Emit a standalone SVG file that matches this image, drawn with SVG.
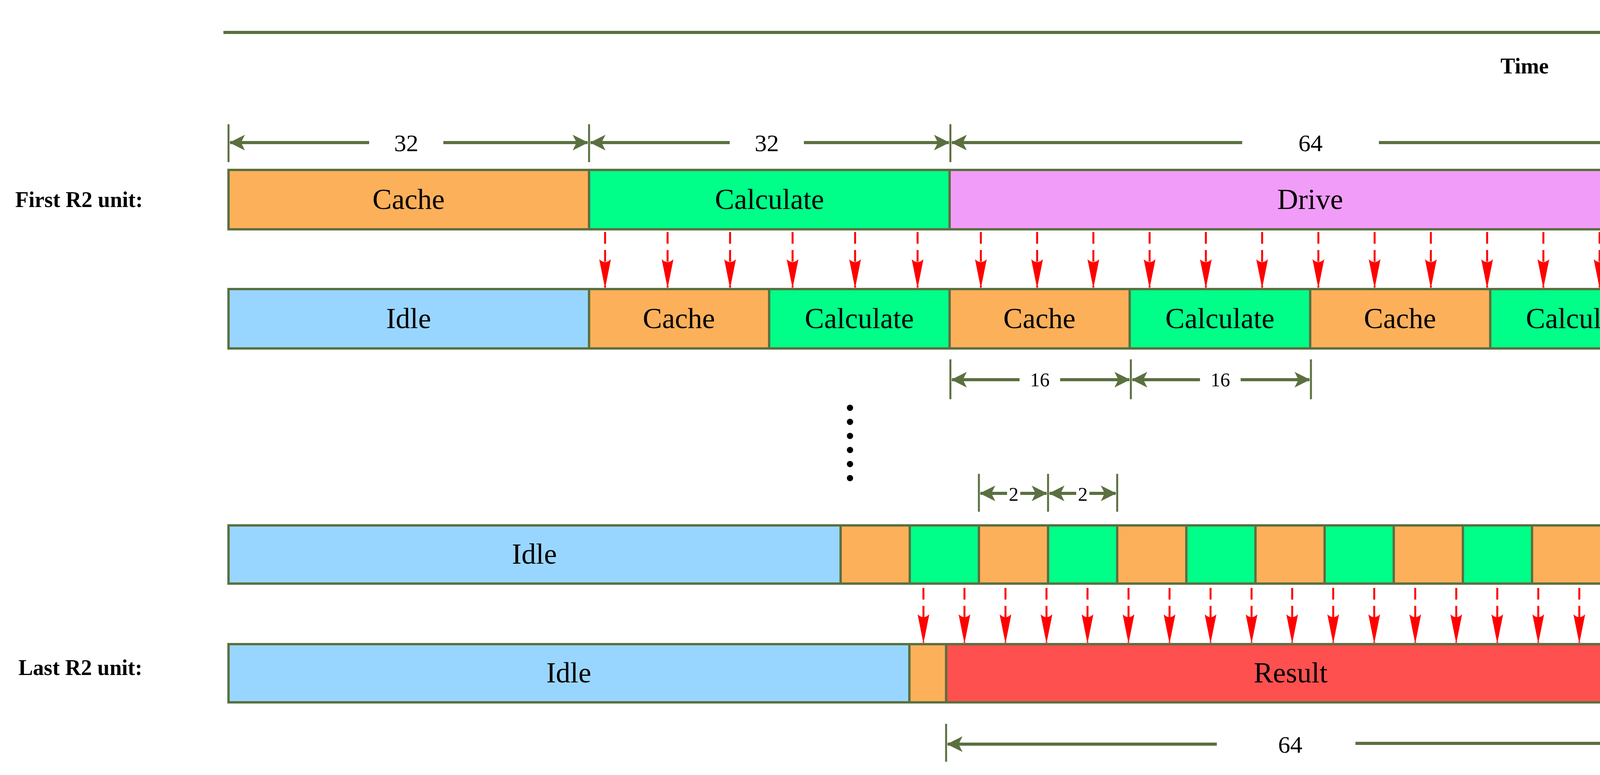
<svg xmlns="http://www.w3.org/2000/svg" width="4308" height="1984" viewBox="0 0 4308 1984">
<style>
.b{stroke:#5a7040;stroke-width:6}
.o{fill:#fdb05a}.g{fill:#00ff88}.p{fill:#f19cf8}.i{fill:#99d6ff}.r{fill:#ff5050}
.t{font-family:"Liberation Serif",serif;font-size:74px;text-anchor:middle;fill:#000}
.d{font-family:"Liberation Serif",serif;font-size:62px;text-anchor:middle;fill:#000}
.s{font-family:"Liberation Serif",serif;font-size:50px;text-anchor:middle;fill:#000}
.l{font-family:"Liberation Serif",serif;font-size:56px;font-weight:bold;fill:#000}
.dl{stroke:#5a7040;stroke-width:8;fill:none}
.tk{stroke:#5a7040;stroke-width:5}
.ra line{stroke:#ff0000;stroke-width:5;stroke-dasharray:30 16;fill:none;marker-end:url(#ra)}
</style>
<defs>
<marker id="da" viewBox="0 0 20 20" refX="19" refY="10" markerWidth="5" markerHeight="5" orient="auto-start-reverse" markerUnits="strokeWidth"><path d="M0,0 L20,10 L0,20 L5,10 Z" fill="#5a7040"/></marker>
<marker id="ra" viewBox="0 0 12 30" refX="6" refY="29" markerWidth="6" markerHeight="15" orient="0" markerUnits="strokeWidth"><path d="M0,0 Q6,6 12,0 L6,30 Z" fill="#ff0000"/></marker>
</defs>
<g id="time">
<line x1="572" y1="83" x2="4250" y2="83" class="dl" marker-end="url(#da)"/>
<text x="3903" y="188" class="l" text-anchor="middle">Time</text>
</g>
<g id="labels">
<text x="39" y="530" class="l">First R2 unit:</text>
<text x="47" y="1728" class="l">Last R2 unit:</text>
</g>
<g id="row1">
<rect x="585" y="435" width="923" height="152" class="b o"/>
<rect x="1508" y="435" width="923" height="152" class="b g"/>
<rect x="2431" y="435" width="1846" height="152" class="b p"/>
<text x="1046" y="535" class="t">Cache</text>
<text x="1970" y="535" class="t">Calculate</text>
<text x="3354" y="535" class="t">Drive</text>
</g>
<g id="row2">
<rect x="585" y="740" width="923" height="152" class="b i"/>
<rect x="1508" y="740" width="461" height="152" class="b o"/>
<rect x="1969" y="740" width="462" height="152" class="b g"/>
<rect x="2431" y="740" width="461" height="152" class="b o"/>
<rect x="2892" y="740" width="462" height="152" class="b g"/>
<rect x="3354" y="740" width="461" height="152" class="b o"/>
<rect x="3815" y="740" width="462" height="152" class="b g"/>
<text x="1046" y="840" class="t">Idle</text>
<text x="1738" y="840" class="t">Cache</text>
<text x="2200" y="840" class="t">Calculate</text>
<text x="2661" y="840" class="t">Cache</text>
<text x="3123" y="840" class="t">Calculate</text>
<text x="3584" y="840" class="t">Cache</text>
<text x="4046" y="840" class="t">Calculate</text>
</g>
<g id="dots" fill="#000">
<circle cx="2176" cy="1044" r="8"/><circle cx="2176" cy="1080" r="8"/><circle cx="2176" cy="1116" r="8"/><circle cx="2176" cy="1152" r="8"/><circle cx="2176" cy="1188" r="8"/><circle cx="2176" cy="1224" r="8"/>
</g>
<g id="row3">
<rect x="585" y="1345" width="1567" height="149" class="b i"/>
<rect x="2152" y="1345" width="177" height="149" class="b o"/>
<rect x="2329" y="1345" width="177" height="149" class="b g"/>
<rect x="2506" y="1345" width="177" height="149" class="b o"/>
<rect x="2683" y="1345" width="177" height="149" class="b g"/>
<rect x="2860" y="1345" width="177" height="149" class="b o"/>
<rect x="3037" y="1345" width="177" height="149" class="b g"/>
<rect x="3214" y="1345" width="177" height="149" class="b o"/>
<rect x="3391" y="1345" width="177" height="149" class="b g"/>
<rect x="3568" y="1345" width="177" height="149" class="b o"/>
<rect x="3745" y="1345" width="177" height="149" class="b g"/>
<rect x="3922" y="1345" width="177" height="149" class="b o"/>
<rect x="4099" y="1345" width="177" height="149" class="b g"/>
<text x="1368" y="1443" class="t">Idle</text>
</g>
<g id="row4">
<rect x="585" y="1649" width="1743" height="149" class="b i"/>
<rect x="2328" y="1649" width="94" height="149" class="b o"/>
<rect x="2422" y="1649" width="1765" height="149" class="b r"/>
<text x="1456" y="1747" class="t">Idle</text>
<text x="3304" y="1747" class="t">Result</text>
</g>
<g id="connectors" class="ra">
<line x1="1549" y1="594" x2="1549" y2="736"/><line x1="1709" y1="594" x2="1709" y2="736"/><line x1="1869" y1="594" x2="1869" y2="736"/><line x1="2029" y1="594" x2="2029" y2="736"/><line x1="2189" y1="594" x2="2189" y2="736"/><line x1="2349" y1="594" x2="2349" y2="736"/>
<line x1="2511" y1="594" x2="2511" y2="736"/><line x1="2655" y1="594" x2="2655" y2="736"/><line x1="2799" y1="594" x2="2799" y2="736"/><line x1="2943" y1="594" x2="2943" y2="736"/><line x1="3087" y1="594" x2="3087" y2="736"/><line x1="3231" y1="594" x2="3231" y2="736"/><line x1="3375" y1="594" x2="3375" y2="736"/><line x1="3519" y1="594" x2="3519" y2="736"/><line x1="3663" y1="594" x2="3663" y2="736"/><line x1="3807" y1="594" x2="3807" y2="736"/><line x1="3951" y1="594" x2="3951" y2="736"/><line x1="4095" y1="594" x2="4095" y2="736"/><line x1="4240" y1="594" x2="4240" y2="736"/>
<line x1="2364" y1="1505" x2="2364" y2="1645"/><line x1="2469" y1="1505" x2="2469" y2="1645"/><line x1="2574" y1="1505" x2="2574" y2="1645"/><line x1="2679" y1="1505" x2="2679" y2="1645"/><line x1="2784" y1="1505" x2="2784" y2="1645"/><line x1="2889" y1="1505" x2="2889" y2="1645"/><line x1="2994" y1="1505" x2="2994" y2="1645"/><line x1="3099" y1="1505" x2="3099" y2="1645"/><line x1="3204" y1="1505" x2="3204" y2="1645"/><line x1="3308" y1="1505" x2="3308" y2="1645"/><line x1="3413" y1="1505" x2="3413" y2="1645"/><line x1="3518" y1="1505" x2="3518" y2="1645"/><line x1="3623" y1="1505" x2="3623" y2="1645"/><line x1="3728" y1="1505" x2="3728" y2="1645"/><line x1="3833" y1="1505" x2="3833" y2="1645"/><line x1="3938" y1="1505" x2="3938" y2="1645"/><line x1="4043" y1="1505" x2="4043" y2="1645"/><line x1="4148" y1="1505" x2="4148" y2="1645"/>
</g>
<g id="dims">
<path class="tk" d="M585,318V415M1508,318V415M2433,318V415M4277,318V415"/>
<line x1="945" y1="365" x2="589" y2="365" class="dl" marker-end="url(#da)"/>
<line x1="1135" y1="365" x2="1504" y2="365" class="dl" marker-end="url(#da)"/>
<line x1="1868" y1="365" x2="1512" y2="365" class="dl" marker-end="url(#da)"/>
<line x1="2058" y1="365" x2="2429" y2="365" class="dl" marker-end="url(#da)"/>
<line x1="3180" y1="365" x2="2437" y2="365" class="dl" marker-end="url(#da)"/>
<line x1="3530" y1="365" x2="4273" y2="365" class="dl" marker-end="url(#da)"/>
<text x="1040" y="387" class="d">32</text>
<text x="1963" y="387" class="d">32</text>
<text x="3355" y="387" class="d">64</text>
<path class="tk" d="M2433,920V1022M2895,920V1022M3356,920V1022"/>
<line x1="2610" y1="972" x2="2437" y2="972" class="dl" marker-end="url(#da)"/>
<line x1="2714" y1="972" x2="2891" y2="972" class="dl" marker-end="url(#da)"/>
<line x1="3072" y1="972" x2="2899" y2="972" class="dl" marker-end="url(#da)"/>
<line x1="3176" y1="972" x2="3352" y2="972" class="dl" marker-end="url(#da)"/>
<text x="2662" y="989" class="s">16</text>
<text x="3124" y="989" class="s">16</text>
<path class="tk" d="M2506,1213V1310M2683,1213V1310M2860,1213V1310"/>
<line x1="2578" y1="1263" x2="2510" y2="1263" class="dl" marker-end="url(#da)"/>
<line x1="2612" y1="1263" x2="2679" y2="1263" class="dl" marker-end="url(#da)"/>
<line x1="2755" y1="1263" x2="2687" y2="1263" class="dl" marker-end="url(#da)"/>
<line x1="2789" y1="1263" x2="2856" y2="1263" class="dl" marker-end="url(#da)"/>
<text x="2595" y="1282" class="s">2</text>
<text x="2772" y="1282" class="s">2</text>
<path class="tk" d="M2422,1853V1950M4187,1853V1950"/>
<line x1="3115" y1="1905" x2="2426" y2="1905" class="dl" marker-end="url(#da)"/>
<line x1="3470" y1="1903" x2="4183" y2="1903" class="dl" marker-end="url(#da)"/>
<text x="3303" y="1927" class="d">64</text>
</g>
</svg>
